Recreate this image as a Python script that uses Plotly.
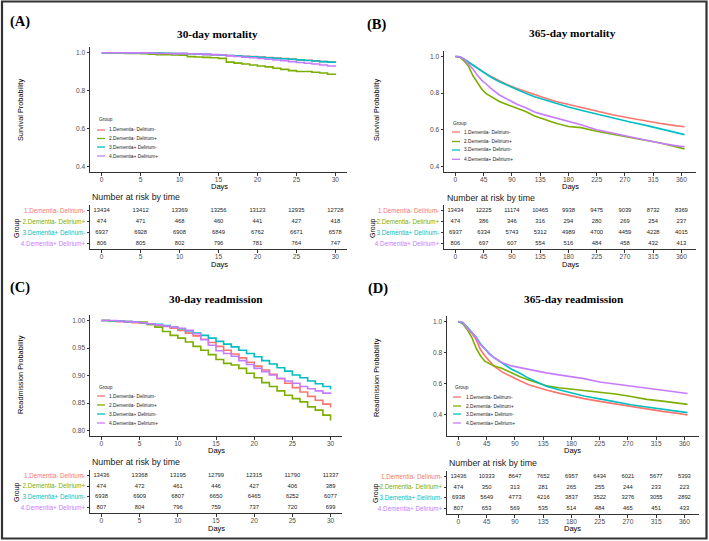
import plotly.graph_objects as go

W, H = 709, 541

groups = ["1.Dementia- Delirium-", "2.Dementia- Delirium+",
          "3.Dementia+ Delirium-", "4.Dementia+ Delirium+"]
colors = ["#F8766D", "#7CAE00", "#00BFC4", "#C77CFF"]

# x grids and tick labels
days_30 = list(range(31))
days_365 = [0, 7, 14, 21, 28, 35, 42, 49, 56, 70, 84, 98, 112, 126, 140,
            160, 180, 200, 225, 250, 275, 300, 325, 350, 365]
ticks_30 = [0, 5, 10, 15, 20, 25, 30]
ticks_365 = [0, 45, 90, 135, 180, 225, 270, 315, 360]

# (A) 30-day mortality
mort30_g1 = [1.0, 1.0, 0.9995, 0.999, 0.999, 0.998, 0.998, 0.997, 0.996, 0.996, 0.995,
             0.994, 0.992, 0.991, 0.989, 0.987, 0.985, 0.983, 0.981, 0.979, 0.977,
             0.974, 0.971, 0.969, 0.966, 0.963, 0.960, 0.957, 0.953, 0.950, 0.947]
mort30_g2 = [1.0, 1.0, 0.998, 0.996, 0.996, 0.994, 0.992, 0.990, 0.989, 0.988, 0.987,
             0.979, 0.977, 0.975, 0.973, 0.970, 0.950, 0.945, 0.940, 0.935, 0.930,
             0.925, 0.918, 0.912, 0.905, 0.901, 0.901, 0.897, 0.893, 0.886, 0.882]
mort30_g3 = [1.0, 1.0, 1.0, 0.9995, 0.999, 0.9987, 0.998, 0.998, 0.997, 0.996, 0.9958,
             0.994, 0.993, 0.991, 0.989, 0.987, 0.985, 0.983, 0.980, 0.978, 0.975,
             0.973, 0.970, 0.968, 0.965, 0.962, 0.959, 0.956, 0.953, 0.950, 0.948]
mort30_g4 = [1.0, 1.0, 1.0, 0.9988, 0.9988, 0.9988, 0.998, 0.996, 0.996, 0.995, 0.995,
             0.994, 0.993, 0.991, 0.990, 0.988, 0.983, 0.980, 0.976, 0.973, 0.969,
             0.965, 0.961, 0.958, 0.953, 0.948, 0.944, 0.940, 0.935, 0.930, 0.926]

# (B) 365-day mortality
mort365_g1 = [1.0, 0.998, 0.985, 0.968, 0.953, 0.937, 0.920, 0.905, 0.892, 0.866, 0.844,
              0.826, 0.808, 0.790, 0.776, 0.755, 0.738, 0.722, 0.703, 0.682, 0.666,
              0.650, 0.636, 0.623, 0.617]
mort365_g2 = [1.0, 0.997, 0.975, 0.945, 0.895, 0.855, 0.822, 0.797, 0.782, 0.755, 0.735,
              0.718, 0.700, 0.675, 0.658, 0.636, 0.618, 0.612, 0.592, 0.575, 0.562,
              0.545, 0.530, 0.510, 0.496]
mort365_g3 = [1.0, 0.998, 0.985, 0.968, 0.952, 0.935, 0.918, 0.902, 0.888, 0.862, 0.840,
              0.820, 0.800, 0.781, 0.766, 0.745, 0.725, 0.707, 0.685, 0.664, 0.645,
              0.627, 0.607, 0.588, 0.574]
mort365_g4 = [1.0, 0.998, 0.985, 0.960, 0.930, 0.898, 0.870, 0.850, 0.828, 0.790, 0.765,
              0.740, 0.720, 0.697, 0.683, 0.664, 0.645, 0.628, 0.600, 0.582, 0.565,
              0.545, 0.528, 0.514, 0.508]

# (C) 30-day readmission
read30_g1 = [1.0, 0.9995, 0.998, 0.997, 0.996, 0.995, 0.993, 0.991, 0.989, 0.986, 0.982,
             0.977, 0.972, 0.966, 0.960, 0.953, 0.946, 0.939, 0.932, 0.924, 0.917,
             0.910, 0.902, 0.894, 0.886, 0.878, 0.870, 0.862, 0.855, 0.848, 0.842]
read30_g2 = [1.0, 0.999, 0.999, 0.998, 0.997, 0.997, 0.993, 0.988, 0.980, 0.973, 0.968,
             0.961, 0.953, 0.946, 0.938, 0.929, 0.922, 0.919, 0.913, 0.904, 0.896,
             0.887, 0.880, 0.872, 0.864, 0.858, 0.852, 0.843, 0.837, 0.828, 0.818]
read30_g3 = [1.0, 0.9996, 0.999, 0.998, 0.997, 0.996, 0.994, 0.993, 0.991, 0.988, 0.985,
             0.981, 0.977, 0.973, 0.968, 0.962, 0.957, 0.952, 0.946, 0.940, 0.934,
             0.927, 0.921, 0.914, 0.908, 0.901, 0.896, 0.890, 0.885, 0.880, 0.875]
read30_g4 = [1.0, 1.0, 0.999, 0.998, 0.997, 0.996, 0.994, 0.992, 0.990, 0.988, 0.986,
             0.982, 0.976, 0.965, 0.955, 0.945, 0.940, 0.935, 0.927, 0.920, 0.913,
             0.907, 0.901, 0.895, 0.890, 0.886, 0.880, 0.876, 0.872, 0.868, 0.866]

# (D) 365-day readmission
read365_g1 = [1.0, 0.990, 0.957, 0.925, 0.885, 0.820, 0.780, 0.745, 0.715, 0.675, 0.645,
              0.620, 0.594, 0.575, 0.560, 0.540, 0.522, 0.505, 0.487, 0.470, 0.453,
              0.437, 0.423, 0.410, 0.400]
read365_g2 = [1.0, 0.985, 0.947, 0.900, 0.830, 0.780, 0.745, 0.728, 0.715, 0.698, 0.670,
              0.645, 0.625, 0.605, 0.587, 0.575, 0.566, 0.556, 0.547, 0.535, 0.518,
              0.500, 0.489, 0.476, 0.468]
read365_g3 = [1.0, 0.990, 0.964, 0.935, 0.900, 0.857, 0.825, 0.795, 0.770, 0.730, 0.695,
              0.668, 0.635, 0.610, 0.585, 0.562, 0.540, 0.522, 0.503, 0.484, 0.466,
              0.451, 0.436, 0.422, 0.415]
read365_g4 = [1.0, 0.995, 0.957, 0.930, 0.895, 0.851, 0.825, 0.790, 0.770, 0.735, 0.715,
              0.703, 0.690, 0.680, 0.670, 0.657, 0.645, 0.633, 0.612, 0.598, 0.585,
              0.572, 0.560, 0.545, 0.538]

# numbers at risk
risk_a = [[13434, 13412, 13369, 13256, 13123, 12935, 12728],
          [474, 471, 468, 460, 441, 427, 418],
          [6937, 6928, 6908, 6849, 6762, 6671, 6578],
          [806, 805, 802, 796, 781, 764, 747]]
risk_b = [[13434, 12225, 11174, 10465, 9938, 9475, 9039, 8732, 8369],
          [474, 386, 346, 316, 294, 280, 269, 254, 237],
          [6937, 6334, 5743, 5312, 4989, 4700, 4459, 4228, 4015],
          [806, 697, 607, 554, 516, 484, 458, 432, 413]]
risk_c = [[13436, 13368, 13195, 12799, 12315, 11790, 11337],
          [474, 472, 461, 446, 427, 406, 389],
          [6938, 6909, 6807, 6650, 6465, 6252, 6077],
          [807, 804, 796, 759, 737, 720, 699]]
risk_d = [[13436, 10333, 8647, 7652, 6957, 6434, 6021, 5677, 5393],
          [474, 350, 313, 281, 265, 255, 244, 233, 223],
          [6938, 5649, 4773, 4216, 3837, 3522, 3276, 3055, 2892],
          [807, 653, 569, 535, 514, 484, 465, 451, 433]]


def fx(p):
    return p / W


def fy(p):
    return 1 - p / H


SANS = "Liberation Sans, Arial, sans-serif"
SERIF = "Liberation Serif, Times New Roman, serif"
AX = "#333333"
TXT = "#4d4d4d"

panels = [
    dict(label="(A)", lab_xy=(20, 22), title="30-day mortality", title_xy=(217, 34),
         ytitle="Survival Probability", ytitle_xy=(20, 110),
         main=(90, 347, 47, 172), table=(90, 347, 205, 249),
         xr=[-1.5, 31.5], yr=[0.37, 1.03], yt=[0.4, 0.6, 0.8, 1.0], yfmt="{:.1f}",
         days=days_30, series=[mort30_g1, mort30_g2, mort30_g3, mort30_g4], shape="hv",
         ticks=ticks_30, risk=risk_a, days_main=(219, 186), days_tab=(219, 264),
         nrisk_xy=(90, 197), group_xy=(17, 228),
         leg=dict(gx=97, gy=119, x0=97, x1=105, tx=107, ys=[130, 138.5, 147, 156])),
    dict(label="(B)", lab_xy=(377, 24), title="365-day mortality", title_xy=(572, 33),
         ytitle="Survival Probability", ytitle_xy=(376, 110),
         main=(444, 696, 51, 172), table=(444, 696, 205, 249),
         xr=[-18.25, 383.25], yr=[0.37, 1.03], yt=[0.4, 0.6, 0.8, 1.0], yfmt="{:.1f}",
         days=days_365, series=[mort365_g1, mort365_g2, mort365_g3, mort365_g4], shape="linear",
         ticks=ticks_365, risk=risk_b, days_main=(570, 186), days_tab=(570, 264),
         nrisk_xy=(445, 198), group_xy=(373, 228),
         leg=dict(gx=451, gy=123, x0=452, x1=460, tx=462, ys=[132, 141.5, 150, 159.3])),
    dict(label="(C)", lab_xy=(20, 287), title="30-day readmission", title_xy=(216, 299),
         ytitle="Readmission Probability", ytitle_xy=(20, 375),
         main=(90, 342, 315, 436), table=(90, 342, 470, 513),
         xr=[-1.5, 31.5], yr=[0.79, 1.01], yt=[0.80, 0.85, 0.90, 0.95, 1.00], yfmt="{:.2f}",
         days=days_30, series=[read30_g1, read30_g2, read30_g3, read30_g4], shape="hv",
         ticks=ticks_30, risk=risk_c, days_main=(216, 450), days_tab=(216, 528),
         nrisk_xy=(90, 462), group_xy=(17, 492),
         leg=dict(gx=97, gy=387, x0=97, x1=105, tx=107, ys=[396, 405, 414, 423])),
    dict(label="(D)", lab_xy=(378, 288), title="365-day readmission", title_xy=(574, 299),
         ytitle="Readmission Probability", ytitle_xy=(376, 377),
         main=(447, 699, 316, 436), table=(447, 699, 471, 514),
         xr=[-18.25, 383.25], yr=[0.265, 1.035], yt=[0.4, 0.6, 0.8, 1.0], yfmt="{:.1f}",
         days=days_365, series=[read365_g1, read365_g2, read365_g3, read365_g4], shape="linear",
         ticks=ticks_365, risk=risk_d, days_main=(572, 450), days_tab=(572, 528),
         nrisk_xy=(447, 463), group_xy=(376, 493),
         leg=dict(gx=453, gy=387, x0=453, x1=461, tx=464, ys=[397, 406, 414, 423])),
]

fig = go.Figure()
layout = {}
annotations = []
shapes = []


def axis_common():
    return dict(showgrid=False, zeroline=False, showline=True, linecolor=AX, linewidth=1,
                ticks="outside", ticklen=2.5, tickwidth=0.8, tickcolor=AX,
                tickfont=dict(family=SANS, size=6.6, color=TXT), fixedrange=True)


def ann(text, x, y, size, family=SANS, color="black", xanchor="center", angle=0, bold=False):
    if bold:
        text = f"<b>{text}</b>"
    annotations.append(dict(text=text, x=fx(x), y=fy(y), xref="paper", yref="paper",
                            showarrow=False, xanchor=xanchor, yanchor="middle",
                            textangle=angle, font=dict(family=family, size=size, color=color)))


for i, p in enumerate(panels):
    n_main = 2 * i + 1
    n_tab = 2 * i + 2
    xm = "x" if n_main == 1 else f"x{n_main}"
    ym = "y" if n_main == 1 else f"y{n_main}"
    xt, yt_ = f"x{n_tab}", f"y{n_tab}"

    # survival / readmission curves
    for g, vals in enumerate(p["series"]):
        fig.add_trace(go.Scatter(x=p["days"], y=vals, mode="lines", xaxis=xm, yaxis=ym,
                                 line=dict(color=colors[g], width=1.6, shape=p["shape"]),
                                 showlegend=False, hoverinfo="skip"))

    x0, x1, y0, y1 = p["main"]
    xa = axis_common()
    xa.update(domain=[fx(x0), fx(x1)], range=p["xr"], anchor=ym, tickvals=p["ticks"],
              ticklabelstandoff=-1)
    ya = axis_common()
    ya.update(domain=[fy(y1), fy(y0)], range=p["yr"], anchor=xm, tickvals=p["yt"],
              ticktext=[p["yfmt"].format(v) for v in p["yt"]])
    layout["xaxis" if n_main == 1 else f"xaxis{n_main}"] = xa
    layout["yaxis" if n_main == 1 else f"yaxis{n_main}"] = ya

    # risk table
    for g, row in enumerate(p["risk"]):
        fig.add_trace(go.Scatter(x=p["ticks"], y=[4 - g] * len(row), mode="text",
                                 text=[str(v) for v in row], xaxis=xt, yaxis=yt_,
                                 textfont=dict(family=SANS, size=5.8, color="#222222"),
                                 showlegend=False, hoverinfo="skip"))
    tx0, tx1, ty0, ty1 = p["table"]
    xa = axis_common()
    xa.update(domain=[fx(tx0), fx(tx1)], range=p["xr"], anchor=yt_, tickvals=p["ticks"],
              ticklabelstandoff=-1)
    ya = axis_common()
    ya.update(domain=[fy(ty1), fy(ty0)], range=[0.5, 4.5], anchor=xt, tickvals=[4, 3, 2, 1],
              ticktext=[f'<span style="color:{c}">{g}</span>' for g, c in zip(groups, colors)],
              tickfont=dict(family=SANS, size=6.3))
    layout[f"xaxis{n_tab}"] = xa
    layout[f"yaxis{n_tab}"] = ya

    # texts
    ann(p["label"], *p["lab_xy"], 14.5, family=SERIF, bold=True)
    ann(p["title"], *p["title_xy"], 11.3, family=SERIF, bold=True)
    ann(p["ytitle"], *p["ytitle_xy"], 7.3, angle=-90)
    ann("Days", *p["days_main"], 7.5)
    ann("Days", *p["days_tab"], 7.5)
    ann("Number at risk by time", *p["nrisk_xy"], 8.8, xanchor="left", color="#222222")
    ann("Group", *p["group_xy"], 7, angle=-90)

    # legend drawn by hand inside the plot
    lg = p["leg"]
    ann("Group", lg["gx"], lg["gy"], 4.8, xanchor="left", color="#222222")
    for g, yy in enumerate(lg["ys"]):
        shapes.append(dict(type="line", xref="paper", yref="paper",
                           x0=fx(lg["x0"]), x1=fx(lg["x1"]), y0=fy(yy), y1=fy(yy),
                           line=dict(color=colors[g], width=1.3)))
        ann(groups[g], lg["tx"], yy, 4.8, xanchor="left", color="#222222")

# outer frame
shapes.append(dict(type="rect", xref="paper", yref="paper",
                   x0=fx(2), x1=fx(706.5), y0=fy(538.5), y1=fy(1.5),
                   line=dict(color="#333333", width=2.2)))

fig.update_layout(**layout)
fig.update_layout(width=W, height=H, margin=dict(l=0, r=0, t=0, b=0),
                  paper_bgcolor="white", plot_bgcolor="white",
                  annotations=annotations, shapes=shapes, showlegend=False)

# the page's default body margin would push the figure 8px off the window
fig.write_html("out.html", config={"displayModeBar": False},
               post_script="document.body.style.margin='0';")
